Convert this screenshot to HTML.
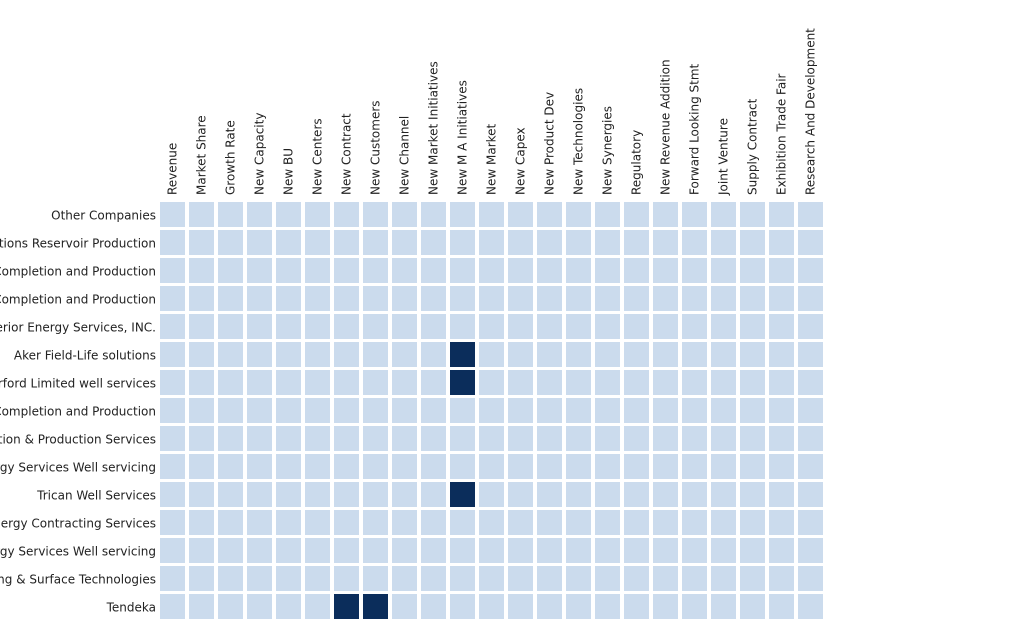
<!DOCTYPE html>
<html><head><meta charset="utf-8"><style>
html,body{margin:0;padding:0;background:#fff;width:1024px;height:641px;overflow:hidden}
text{font-family:"DejaVu Sans","Liberation Sans",sans-serif;font-size:12px;fill:#222}
</style></head><body>
<svg id="chart" width="1024" height="641" xmlns="http://www.w3.org/2000/svg"></svg>
<script>
const columns=["Revenue","Market Share","Growth Rate","New Capacity","New BU","New Centers","New Contract","New Customers","New Channel","New Market Initiatives","New M A Initiatives","New Market","New Capex","New Product Dev","New Technologies","New Synergies","Regulatory","New Revenue Addition","Forward Looking Stmt","Joint Venture","Supply Contract","Exhibition Trade Fair","Research And Development"];
const rows=["Other Companies","Schlumberger Completions Reservoir Production","Halliburton Completion and Production","Baker Hughes Completion and Production","Superior Energy Services, INC.","Aker Field-Life solutions","Weatherford Limited well services","Weatherford Completion and Production","Expro Completion & Production Services","Basic Energy Services Well servicing","Trican Well Services","Saipem Energy Contracting Services","Key Energy Services Well servicing","Forum Drilling & Surface Technologies","Tendeka"];
const values=[
[0,0,0,0,0,0,0,0,0,0,0,0,0,0,0,0,0,0,0,0,0,0,0],
[0,0,0,0,0,0,0,0,0,0,0,0,0,0,0,0,0,0,0,0,0,0,0],
[0,0,0,0,0,0,0,0,0,0,0,0,0,0,0,0,0,0,0,0,0,0,0],
[0,0,0,0,0,0,0,0,0,0,0,0,0,0,0,0,0,0,0,0,0,0,0],
[0,0,0,0,0,0,0,0,0,0,0,0,0,0,0,0,0,0,0,0,0,0,0],
[0,0,0,0,0,0,0,0,0,0,1,0,0,0,0,0,0,0,0,0,0,0,0],
[0,0,0,0,0,0,0,0,0,0,1,0,0,0,0,0,0,0,0,0,0,0,0],
[0,0,0,0,0,0,0,0,0,0,0,0,0,0,0,0,0,0,0,0,0,0,0],
[0,0,0,0,0,0,0,0,0,0,0,0,0,0,0,0,0,0,0,0,0,0,0],
[0,0,0,0,0,0,0,0,0,0,0,0,0,0,0,0,0,0,0,0,0,0,0],
[0,0,0,0,0,0,0,0,0,0,1,0,0,0,0,0,0,0,0,0,0,0,0],
[0,0,0,0,0,0,0,0,0,0,0,0,0,0,0,0,0,0,0,0,0,0,0],
[0,0,0,0,0,0,0,0,0,0,0,0,0,0,0,0,0,0,0,0,0,0,0],
[0,0,0,0,0,0,0,0,0,0,0,0,0,0,0,0,0,0,0,0,0,0,0],
[0,0,0,0,0,0,1,1,0,0,0,0,0,0,0,0,0,0,0,0,0,0,0]];
const svg=document.getElementById('chart');
const NS='http://www.w3.org/2000/svg';
const x0=160,y0=202,stepX=29,stepY=28,cw=25,ch=25;
const xPos=i=>x0+i*stepX;
const yPos=j=>y0+j*stepY;
const color=v=>v>0?'#0b2d5b':'#cbdbed';
columns.forEach((c,i)=>{
  const t=document.createElementNS(NS,'text');
  
  
  const x=xPos(i)+cw/2+4,y=195;
  t.setAttribute('transform',`translate(${x},${y}) rotate(-90)`);
  t.textContent=c;svg.appendChild(t);
});
rows.forEach((r,j)=>{
  const t=document.createElementNS(NS,'text');
  
  
  t.setAttribute('x',156);t.setAttribute('y',yPos(j)+ch/2+5);
  t.setAttribute('text-anchor','end');
  t.textContent=r;svg.appendChild(t);
  values[j].forEach((v,i)=>{
    const rc=document.createElementNS(NS,'rect');
    
    
    rc.setAttribute('x',xPos(i));rc.setAttribute('y',yPos(j));
    rc.setAttribute('width',cw);rc.setAttribute('height',ch);
    rc.setAttribute('fill',color(v));
    svg.appendChild(rc);
  });
});
</script>
</body></html>
